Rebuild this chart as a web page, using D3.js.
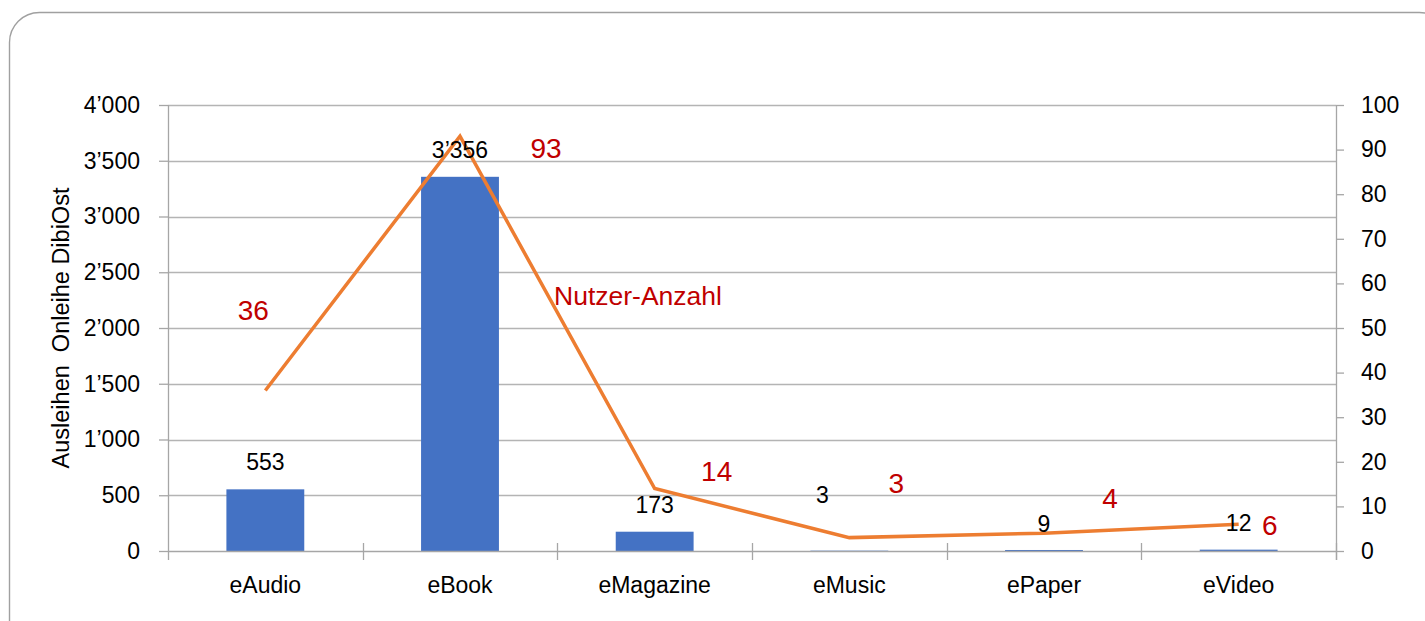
<!DOCTYPE html>
<html>
<head>
<meta charset="utf-8">
<script src="https://cdn.jsdelivr.net/npm/d3@7"></script>
<style>
  html, body { margin: 0; padding: 0; background: #fff; }
  svg { display: block; }
  text { font-family: "Liberation Sans", Arial, sans-serif; }
</style>
</head>
<body>
<svg id="chart" width="1425" height="621"></svg>
<script>
// ---- data ----
const categories = ["eAudio", "eBook", "eMagazine", "eMusic", "ePaper", "eVideo"];
const ausleihen = [553, 3356, 173, 3, 9, 12];
const nutzer = [36, 93, 14, 3, 4, 6];
const leftTicks = [0, 500, 1000, 1500, 2000, 2500, 3000, 3500, 4000];
const rightTicks = [0, 10, 20, 30, 40, 50, 60, 70, 80, 90, 100];
const yTitle = "Ausleihen  Onleihe DibiOst";
const lineLabel = "Nutzer-Anzahl";
// label offsets (px) relative to the bar top / line point
const barLabelOffsets = [[0, -19], [0, -19], [0, -19], [-27, -48], [0, -18], [0, -19]];
const lineLabelOffsets = [[-12, -70], [86, 22], [62, -8], [47, -45], [66, -25], [31, 11]];

// ---- layout ----
const svg = d3.select("#chart");
const pLeft = 168, pRight = 1336, pTop = 105, pBottom = 551;

const x = d3.scaleBand().domain(categories).range([pLeft, pRight])
  .paddingInner(0.6).paddingOuter(0.3);
const yL = d3.scaleLinear().domain([0, 4000]).range([pBottom, pTop]);
const yR = d3.scaleLinear().domain([0, 100]).range([pBottom, pTop]);
const fmt = v => d3.format(",")(v).replace(/,/g, "\u2019");

// outer rounded frame
svg.append("rect").attr("x", 9.5).attr("y", 12.5).attr("width", 1440).attr("height", 640)
  .attr("rx", 30).attr("ry", 30).attr("fill", "none").attr("stroke", "#a0a0a0").attr("stroke-width", 1.4);

// gridlines
svg.append("g").selectAll("line").data(leftTicks.slice(1)).join("line")
  .attr("x1", pLeft).attr("x2", pRight)
  .attr("y1", d => Math.round(yL(d)) + 0.5).attr("y2", d => Math.round(yL(d)) + 0.5)
  .attr("stroke", "#b4b4b4").attr("stroke-width", 1.3);

// left axis
const gL = svg.append("g").attr("transform", `translate(${pLeft},0)`)
  .call(d3.axisLeft(yL).tickValues(leftTicks).tickFormat(fmt).tickSize(9).tickPadding(19));
gL.select(".domain").remove();
gL.selectAll(".tick line").attr("stroke", "#a6a6a6").attr("stroke-width", 1.3);
gL.selectAll(".tick text").attr("font-size", 23).attr("fill", "#000")
  .attr("font-family", "Liberation Sans, Arial, sans-serif");
svg.append("line").attr("x1", pLeft + 0.5).attr("x2", pLeft + 0.5).attr("y1", pTop).attr("y2", 560)
  .attr("stroke", "#a6a6a6").attr("stroke-width", 1.3);

// right axis
const gR = svg.append("g").attr("transform", `translate(${pRight},0)`)
  .call(d3.axisRight(yR).tickValues(rightTicks).tickSize(8).tickPadding(17));
gR.select(".domain").remove();
gR.selectAll(".tick line").attr("stroke", "#a6a6a6").attr("stroke-width", 1.3);
gR.selectAll(".tick text").attr("font-size", 23).attr("fill", "#000")
  .attr("font-family", "Liberation Sans, Arial, sans-serif");
svg.append("line").attr("x1", pRight + 0.5).attr("x2", pRight + 0.5).attr("y1", pTop).attr("y2", 560)
  .attr("stroke", "#a6a6a6").attr("stroke-width", 1.3);

// bars
svg.append("g").selectAll("rect").data(categories).join("rect")
  .attr("x", d => x(d)).attr("width", x.bandwidth())
  .attr("y", (d, i) => yL(ausleihen[i]))
  .attr("height", (d, i) => pBottom - yL(ausleihen[i]))
  .attr("fill", "#4472C4");

// category axis
svg.append("line").attr("x1", pLeft).attr("x2", pRight).attr("y1", pBottom + 0.5).attr("y2", pBottom + 0.5)
  .attr("stroke", "#a6a6a6").attr("stroke-width", 1.3);
const bounds = categories.map(c => x(c) - x.step() * x.paddingInner() / 2).concat([pRight]);
svg.append("g").selectAll("line").data(bounds.slice(1)).join("line")
  .attr("x1", d => Math.round(d) + 0.5).attr("x2", d => Math.round(d) + 0.5)
  .attr("y1", pBottom - 8).attr("y2", 560)
  .attr("stroke", "#a6a6a6").attr("stroke-width", 1.3);
svg.append("g").selectAll("text").data(categories).join("text")
  .attr("x", d => x(d) + x.bandwidth() / 2).attr("y", 593)
  .attr("text-anchor", "middle").attr("font-size", 23).attr("fill", "#000")
  .text(d => d);

// line series
const cx = d => x(d) + x.bandwidth() / 2;
svg.append("path")
  .datum(categories)
  .attr("d", d3.line().x(cx).y((d, i) => yR(nutzer[i])))
  .attr("fill", "none").attr("stroke", "#ED7D31").attr("stroke-width", 3.5)
  .attr("stroke-linejoin", "miter");

// bar labels
svg.append("g").selectAll("text").data(categories).join("text")
  .attr("x", (d, i) => cx(d) + barLabelOffsets[i][0])
  .attr("y", (d, i) => yL(ausleihen[i]) + barLabelOffsets[i][1])
  .attr("text-anchor", "middle").attr("font-size", 23).attr("fill", "#000")
  .text((d, i) => fmt(ausleihen[i]));

// line labels
svg.append("g").selectAll("text").data(categories).join("text")
  .attr("x", (d, i) => cx(d) + lineLabelOffsets[i][0])
  .attr("y", (d, i) => yR(nutzer[i]) + lineLabelOffsets[i][1])
  .attr("text-anchor", "middle").attr("font-size", 28).attr("fill", "#C00000")
  .text((d, i) => nutzer[i]);

// series name label
svg.append("text").attr("x", 638).attr("y", 305).attr("text-anchor", "middle")
  .attr("font-size", 26.5).attr("fill", "#C00000").text(lineLabel);

// y axis title
svg.append("text").attr("transform", `translate(69,328) rotate(-90)`)
  .attr("text-anchor", "middle").attr("font-size", 23.5).attr("fill", "#000")
  .attr("xml:space", "preserve").style("white-space", "pre")
  .text(yTitle);
</script>
</body>
</html>
